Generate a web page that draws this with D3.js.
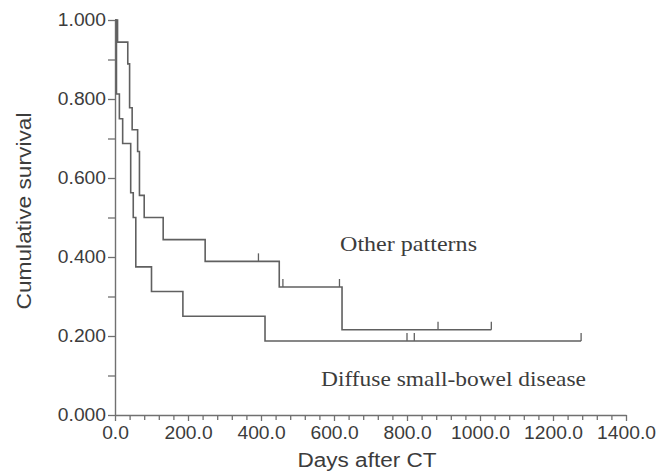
<!DOCTYPE html>
<html><head><meta charset="utf-8">
<script src="https://cdn.jsdelivr.net/npm/d3@7"></script>
<style>body{margin:0;background:#fff} svg{display:block}</style>
</head><body>
<svg id="c" width="671" height="472"></svg>
<script>
// ---- data ----
const otherTimes = [0, 7, 35, 40, 47, 62, 67, 80, 132, 247, 450, 622];
const otherSurv  = [1.0, 0.944, 0.889, 0.778, 0.722, 0.667, 0.556, 0.5, 0.444, 0.389, 0.324, 0.216];
const otherEnd = 1031;
const otherCensorTimes = [393, 460, 615, 885, 1031];
const otherCensorSurv  = [0.389, 0.324, 0.324, 0.216, 0.216];

const diffuseTimes = [0, 4, 12, 21, 43, 50, 57, 100, 186, 411];
const diffuseSurv  = [1.0, 0.8125, 0.75, 0.6875, 0.5625, 0.5, 0.375, 0.3125, 0.25, 0.1875];
const diffuseEnd = 1277;
const diffuseCensorTimes = [800, 820, 1277];
const diffuseCensorSurv  = [0.1875, 0.1875, 0.1875];

const xTickValues = [0, 200, 400, 600, 800, 1000, 1200, 1400];
const xMinorTicks = [40, 80, 120, 160, 240, 280, 320, 360, 440, 480, 520, 560, 640, 680, 720, 760, 840, 880, 920, 960, 1040, 1080, 1120, 1160, 1240, 1280, 1320, 1360];
const yTickValues = [0, 0.2, 0.4, 0.6, 0.8, 1.0];
const yMinorTicks = [0.1, 0.3, 0.5, 0.7, 0.9];

const labels = {
  y: "Cumulative survival",
  x: "Days after CT",
  other: "Other patterns",
  diffuse: "Diffuse small-bowel disease"
};

// ---- drawing ----
const svg = d3.select('#c');
const x = d3.scaleLinear().domain([0, 1400]).range([115, 626]);
const y = d3.scaleLinear().domain([0, 1]).range([415, 20]);
const axisCol = '#707070', textCol = '#3c3c3c', lineCol = '#606060';
const sans = '"Liberation Sans", Arial, Helvetica, sans-serif';
const serif = '"Liberation Serif", "Times New Roman", serif';

function styleAxis(g) {
  g.select('.domain').attr('stroke', axisCol).attr('stroke-width', 1.4);
  g.selectAll('.tick line').attr('stroke', axisCol).attr('stroke-width', 1.3);
  g.selectAll('.tick text').attr('fill', textCol).attr('font-family', sans).attr('font-size', 17.5).classed('hs', true);
}

// y axis
const gy = svg.append('g').attr('transform', 'translate(115,0)')
  .call(d3.axisLeft(y).tickValues(yTickValues).tickFormat(d3.format('.3f')).tickSize(7).tickSizeOuter(0).tickPadding(2));
styleAxis(gy);
const gym = svg.append('g').attr('transform', 'translate(115,0)')
  .call(d3.axisLeft(y).tickValues(yMinorTicks).tickFormat('').tickSize(7).tickSizeOuter(0));
gym.select('.domain').remove();
styleAxis(gym);

// x axis
const gx = svg.append('g').attr('transform', 'translate(0,415)')
  .call(d3.axisBottom(x).tickValues(xTickValues).tickFormat(d3.format('.1f')).tickSize(6).tickSizeOuter(0).tickPadding(6));
styleAxis(gx);
const gxm = svg.append('g').attr('transform', 'translate(0,415)')
  .call(d3.axisBottom(x).tickValues(xMinorTicks).tickFormat('').tickSize(5).tickSizeOuter(0));
gxm.select('.domain').remove();
styleAxis(gxm);

// curves
const line = d3.line().x(d => x(d[0])).y(d => y(d[1])).curve(d3.curveStepAfter);
function drawCurve(times, surv, end, cT, cS) {
  const pts = times.map((t, i) => [t, surv[i]]);
  pts.push([end, surv[surv.length - 1]]);
  svg.append('path').attr('d', line(pts)).attr('fill', 'none')
    .attr('stroke', lineCol).attr('stroke-width', 1.6);
  svg.append('g').selectAll('line').data(cT.map((t, i) => [t, cS[i]])).join('line')
    .attr('x1', d => x(d[0])).attr('x2', d => x(d[0]))
    .attr('y1', d => y(d[1])).attr('y2', d => y(d[1]) - 8)
    .attr('stroke', lineCol).attr('stroke-width', 1.3);
}
drawCurve(diffuseTimes, diffuseSurv, diffuseEnd, diffuseCensorTimes, diffuseCensorSurv);
drawCurve(otherTimes, otherSurv, otherEnd, otherCensorTimes, otherCensorSurv);

// annotations
svg.append('text').attr('x', 340).attr('y', 251).attr('font-family', serif).attr('font-size', 21)
  .attr('fill', textCol).attr('textLength', 137).attr('lengthAdjust', 'spacingAndGlyphs').text(labels.other);
svg.append('text').attr('x', 321).attr('y', 386).attr('font-family', serif).attr('font-size', 21)
  .attr('fill', textCol).attr('textLength', 265).attr('lengthAdjust', 'spacingAndGlyphs').text(labels.diffuse);

// axis titles
svg.append('text').attr('transform', 'translate(31,211) rotate(-90)').attr('text-anchor', 'middle')
  .attr('font-family', sans).attr('font-size', 21).attr('fill', textCol)
  .attr('textLength', 197).attr('lengthAdjust', 'spacingAndGlyphs').text(labels.y);
svg.append('text').attr('x', 367).attr('y', 467).attr('text-anchor', 'middle')
  .attr('font-family', sans).attr('font-size', 19.5).attr('fill', textCol)
  .attr('textLength', 139).attr('lengthAdjust', 'spacingAndGlyphs').text(labels.x);

// slight horizontal widening of tick labels, as in the reference
svg.selectAll('text.hs').each(function () {
  const len = this.getComputedTextLength();
  d3.select(this).attr('textLength', len * 1.1).attr('lengthAdjust', 'spacingAndGlyphs');
});
</script>
</body></html>
